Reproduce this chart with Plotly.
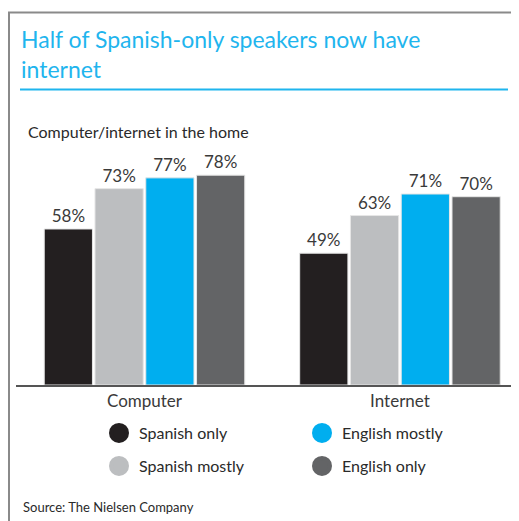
import plotly.graph_objects as go

categories = ["Computer", "Internet"]
series_names = ["Spanish only", "Spanish mostly", "English mostly", "English only"]
spanish_only = [58, 49]
spanish_mostly = [73, 63]
english_mostly = [77, 71]
english_only = [78, 70]
colors = ["#231f20", "#bcbec0", "#00aeef", "#636466"]

values = [spanish_only, spanish_mostly, english_mostly, english_only]

FONT = "Lato"
OFF = 8  # page body margin
W, H = 519 - OFF, 521 - OFF
ML, MR, MT, MB = 16 - OFF, 0, 116 - OFF, 521 - 385
PW, PH = W - ML - MR, H - MT - MB

def px(x):  # reference pixel -> paper
    return (x - OFF - ML) / PW

def py(y):
    return (H - MB - (y - OFF)) / PH

fig = go.Figure()
for name, vals, col in zip(series_names, values, colors):
    fig.add_trace(go.Bar(
        x=categories, y=vals, name=name,
        marker=dict(color=col, line=dict(color="#e6e6e6", width=1)),
        text=[f"{v}%" for v in vals], textposition="outside",
        textfont=dict(family=FONT, size=17, color="#3a3a3a"),
        cliponaxis=False, showlegend=False,
    ))

legend_of = {"Spanish only": "legend", "English mostly": "legend",
             "Spanish mostly": "legend2", "English only": "legend2"}
order = ["Spanish only", "English mostly", "Spanish mostly", "English only"]
for name in order:
    col = colors[series_names.index(name)]
    fig.add_trace(go.Scatter(
        x=[None], y=[None], mode="markers", name=name,
        marker=dict(symbol="circle", size=16, color=col, line=dict(color=col, width=4)),
        legend=legend_of[name], showlegend=True,
    ))

legend_common = dict(
    orientation="h", xanchor="left", yanchor="middle",
    font=dict(family=FONT, size=16, color="#2a2a2a"),
    entrywidth=158, entrywidthmode="pixels", itemsizing="trace",
    bgcolor="rgba(0,0,0,0)", borderwidth=0,
)

fig.update_layout(
    width=W, height=H,
    margin=dict(l=ML, r=MR, t=MT, b=MB),
    paper_bgcolor="white", plot_bgcolor="white",
    barmode="group", bargap=0.205, bargroupgap=0.05,
    xaxis=dict(
        range=[-0.503, 1.466], showgrid=False, zeroline=False,
        showline=True, linecolor="#555555", linewidth=1.5,
        tickfont=dict(family=FONT, size=17, color="#3a3a3a"),
        ticks="", fixedrange=True,
    ),
    yaxis=dict(range=[0, 100], visible=False, fixedrange=True),
    legend=dict(x=px(99), y=py(433), **legend_common),
    legend2=dict(x=px(99), y=py(466), **legend_common),
    showlegend=True,
)

title_lines = ["Half of Spanish-only speakers now have", "internet"]
for line, yc in zip(title_lines, [39, 69]):
    fig.add_annotation(
        text=line, xref="paper", yref="paper", x=px(19), y=py(yc),
        xanchor="left", yanchor="middle", showarrow=False,
        font=dict(family=FONT, size=23, color="#1fb5ee"),
    )

fig.add_annotation(
    text="Computer/internet in the home", xref="paper", yref="paper",
    x=px(26), y=py(132), xanchor="left", yanchor="middle", showarrow=False,
    font=dict(family=FONT, size=16, color="#2a2a2a"),
)
fig.add_annotation(
    text="Source: The Nielsen Company", xref="paper", yref="paper",
    x=px(21), y=py(507), xanchor="left", yanchor="middle", showarrow=False,
    font=dict(family=FONT, size=13, color="#2a2a2a"),
)

# frame and rule
fig.add_shape(type="line", xref="paper", yref="paper",
              x0=px(8), x1=px(519), y0=py(12.5), y1=py(12.5),
              line=dict(color="#8a8a8a", width=2))
fig.add_shape(type="line", xref="paper", yref="paper",
              x0=px(9), x1=px(9), y0=py(12), y1=py(521),
              line=dict(color="#8a8a8a", width=2))
fig.add_shape(type="line", xref="paper", yref="paper",
              x0=px(20), x1=px(508), y0=py(89.5), y1=py(89.5),
              line=dict(color="#1fb5ee", width=2))

fig.write_html("out.html")
